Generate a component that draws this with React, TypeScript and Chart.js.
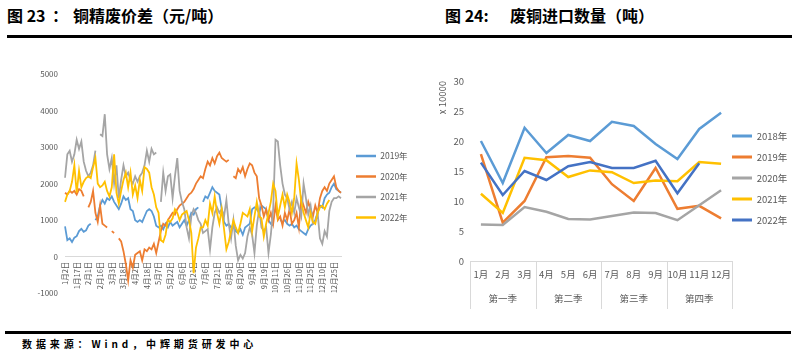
import React, { useEffect, useRef } from "react";
import { Chart, registerables } from "chart.js";

Chart.register(...registerables);

const FONT = '"Noto Sans CJK SC", "Noto Sans", sans-serif';
const TICK = "#595959";
const AXIS = "#D9D9D9";

// ---------- 图23 铜精废价差 ----------
const spreadTickLabels = [
  "1月2日", "1月17日", "2月1日", "2月16日", "3月3日", "3月18日", "4月2日", "4月18日",
  "5月7日", "5月22日", "6月6日", "6月21日", "7月6日", "7月21日", "8月5日", "8月20日",
  "9月4日", "9月19日", "10月11日", "10月26日", "11月10日", "11月25日", "12月10日", "12月25日",
];
const spreadNames = ["2019年", "2020年", "2021年", "2022年"];
const spreadColors = ["#5B9BD5", "#ED7D31", "#A5A5A5", "#FFC000"];

const spread2019 = [
  830, 450, 500, 400, 520, 560, 700, 760, 680, 720,
  850, 900, null, 1000, 1100, 1400, 1550, 1450, 1600, 1550,
  1650, 1500, 1400, 1300, 1450, 1650, 1550, 1600, 1300, 1250,
  1000, 950, 1000, 950, 1100, 1250, 1300, 1250, 1100, 850,
  800, 850, 750, 900, 800, 950, 850, 900, 950, 800,
  900, 1000, 850, 1000, 1200, 1150, 1300, 1350, null, 1500,
  1650, 1600, 1750, 1900, 1800, 1750, 1700, 1300, 950, 850,
  900, 800, 850, 700, 650, 750, 600, 800, 850, 900,
  1300, 1350, 1300, 1200, 1400, 1350, 1300, 1000, 900, 850,
  null, null, 1000, 950, 1000, 900, 850, 900, 800, 850,
  750, 700, 650, 600, 750, 850, 900, 1000, 1200, 1400,
  1350, 1600, 1700, 1750, 1900, 2000, 1850, 1800, 1750,
];
const spread2020 = [
  1750, 1700, 1800, 1750, 1800, 1700, 1850, 1800, 1650, null,
  1350, 1500, 1800, 1200, 950, 1400, 900, 850, 800, null,
  700, 650, null, 500, 420, 150, -200, -650, -100, -300,
  50, 100, 150, -100, 200, 150, 250, 200, 350, 100,
  400, 700, 900, 850, 1000, 1100, 1200, 1150, 1300, 1400,
  1450, 1500, 1600, 1700, 1750, 1850, 2000, 2100, 2200, 2150,
  2400, 2600, 2500, 2700, 2550, 2750, 2850, 2700, 2650, 2600,
  2650, null, 2200, 2150, 2400, 2300, 2450, 2200, 2400, 2550,
  2500, 2300, 2200, 1600, 1400, 1100, 1300, 1000, 1200, 900,
  1400, 1000, 1100, 850, 1200, 1000, 1300, 900, 1000, 1200,
  800, 1600, 1400, 1200, 1500, 1300, 1100, 1400, 1200, 1600,
  1800, 1900, 1800, 2000, 2100, 2200, 1900, 1800, 1750,
];
const spread2021 = [
  2160, 2800, 2900, 2600, 2800, 3200, 2950, 3150, 2600, 2350,
  2200, 2300, 2500, 2900, null, 3350, 3300, 3900, 2800, 2400,
  2700, 2000, 2500, 1600, 2100, 2500, 2200, 2300, 2100, 2000,
  2200, 2050, 2200, 2300, 2500, 2900, 2600, 2950, 2800, 2850,
  null, 1500, 2300, 1800, 2200, 2250, 1600, 2200, 2700, 1800,
  1500, 1300, 800, 500, 1100, 1300, 1200, 1000, 900, 650,
  700, 750, 200, 800, 1200, 1350, 1200, 1300, 1100, 1550,
  900, 500, 1000, 300, -100, 50, -50, 100, 550, 800,
  600, 100, 850, 1300, 800, 700, 800, 100, 600, 1300,
  3200, 3150, 2500, 2000, 1700, 1600, 1300, 1500, 1200, 1600,
  1350, 1100, 2000, 1600, 1150, 1400, 900, 950, 1200, 500,
  350, 700, 550, 1250, 1500, 1600, 1600, 1650, 1600,
];
const spread2022 = [
  1500, 1700, 1800, 2050, 2500, 1750, 2350, 1900, 2050, 2150,
  2200, 2150, 2450, 2700, 2000, 1900, 1950, 2050, 1800, 1650,
  1900, 2800, 1750, 1450, 1800, 2100, 2300, 1900, 2300, 1700,
  1950, 1600, 2100, 1800, 2450, 2400, 2300, 1900, 1700, 1350,
  1200, 450, 400, 600, 1000, 950, 1050, 1300, 1200, 1000,
  1150, 1200, 1250, 1000, 650, -450, 250, 500, 800, 800,
  1000, 850, 1450, 1200, 1650, 1200, 900, 1300, 750, 200,
  400, 700, 1000, 800, 650, 900, 1200, 1150, 1100, 1300,
  700, 1100, 1500, 1100, 1050, 550, 900, 1200, 1500, 2000,
  1800, 1100, 1400, 1700, 1350, 1700, 1500, 1200, 1600, 2550,
  2100, 1500, 1200, 1000, 800, 1200, 950, 900, 1200, 1350,
  1400, 1300, 1450, 1550, null, null, null, null, null,
];
const spreadTicksY = { min: -1000, max: 5000, step: 1000 };

// ---------- 图24 废铜进口数量 ----------
const months = ["1月", "2月", "3月", "4月", "5月", "6月", "7月", "8月", "9月", "10月", "11月", "12月"];
const quarters = ["第一季", "第二季", "第三季", "第四季"];
const importNames = ["2018年", "2019年", "2020年", "2021年", "2022年"];
const importColors = ["#5B9BD5", "#ED7D31", "#A5A5A5", "#FFC000", "#4472C4"];
const imp2018 = [20, 13, 22.2, 18, 21, 20, 23.2, 22.5, 19.5, 17, 22, 24.7];
const imp2019 = [17.8, 6.4, 10, 17.3, 17.5, 17.2, 12.8, 10, 15.5, 8.7, 9.2, 7.1];
const imp2020 = [6.1, 6, 9, 8.2, 7, 6.9, 7.5, 8.1, 8, 6.8, 9.3, 11.8];
const imp2021 = [11.2, 8, 17.2, 16.8, 14, 15.1, 14.8, 13, 13.4, 13.3, 16.5, 16.2];
const imp2022 = [16.4, 11, 15, 13.5, 15.8, 16.5, 15.5, 15.5, 16.7, 11.3, 16.3, null];
const importTicksY = { min: 0, max: 30, step: 5 };

const PW = 20; // legend line sample length

// place the legend: x = start of the line sample, y = centre of the first item (canvas px)
const legendPlace = {
  id: "legendPlace",
  afterLayout(chart: any, _args: any, opts: any) {
    const lg = chart.legend;
    if (!lg || opts == null || opts.x == null) return;
    const dx = opts.x - (lg.left + opts.pad);
    lg.left += dx;
    lg.right += dx;
    const dy = opts.y - opts.pad - opts.fs / 2 - lg.top;
    lg.top += dy;
    lg.bottom += dy;
  },
};

const quarterGroups = {
  id: "quarterGroups",
  afterDraw(chart: any, _args: any, opts: any) {
    if (!opts || !opts.groups) return;
    const x = chart.scales.x;
    const ctx = chart.ctx;
    const n = chart.data.labels.length;
    const per = n / opts.groups.length;
    const edge = (i: number) =>
      i <= 0 ? x.left : i >= n ? x.right : (x.getPixelForValue(i - 1) + x.getPixelForValue(i)) / 2;
    const top = chart.chartArea.bottom;
    ctx.save();
    ctx.strokeStyle = AXIS;
    ctx.lineWidth = 1;
    for (let g = 0; g <= opts.groups.length; g++) {
      const px = Math.round(edge(g * per)) + 0.5;
      ctx.beginPath();
      ctx.moveTo(px, top);
      ctx.lineTo(px, top + opts.lineLen);
      ctx.stroke();
    }
    ctx.fillStyle = TICK;
    ctx.font = `${opts.fontSize}px ${FONT}`;
    ctx.textAlign = "center";
    ctx.textBaseline = "middle";
    opts.groups.forEach((q: string, g: number) => {
      const cx = (edge(g * per) + edge((g + 1) * per)) / 2;
      ctx.fillText(q, cx, top + opts.labelY);
    });
    ctx.restore();
  },
};

// natural width Chart.js gives a vertical legend: padding + line + fs/2 + text + 10
function legendWidth(names: string[], fs: number, pad: number) {
  const c = document.createElement("canvas").getContext("2d")!;
  c.font = `${fs}px ${FONT}`;
  const tw = Math.max(...names.map((t) => c.measureText(t).width));
  return pad + PW + fs / 2 + tw + 10;
}

function legendLabels(fs: number, pad: number, lw: number) {
  return {
    usePointStyle: true,
    pointStyle: "line",
    pointStyleWidth: PW,
    padding: pad,
    color: TICK,
    font: { size: fs, family: FONT },
    sort: (a: any, b: any) => a.datasetIndex - b.datasetIndex,
    generateLabels: (chart: any) =>
      Chart.defaults.plugins.legend.labels
        .generateLabels(chart)
        .map((l: any) => ({ ...l, lineWidth: lw })),
  };
}

const plainTick = (v: any) => String(v);

function SpreadChart() {
  const ref = useRef<HTMLCanvasElement>(null);
  useEffect(() => {
    const W = 420;
    const plotRight = 341;
    const fs = 8.5;
    const pad = 12;
    const lw = legendWidth(spreadNames, fs, pad);
    const series = [spread2019, spread2020, spread2021, spread2022];
    const labels = spread2019.map((_, i) => (i % 5 === 0 ? spreadTickLabels[i / 5] ?? "" : ""));
    const chart = new Chart(ref.current!, {
      type: "line",
      data: {
        labels,
        datasets: series.map((d, i) => ({
          label: spreadNames[i],
          data: d,
          borderColor: spreadColors[i],
          backgroundColor: spreadColors[i],
          borderWidth: 1.8,
          pointRadius: 0,
          tension: 0,
          spanGaps: false,
          order: series.length - i,
        })),
      },
      options: {
        responsive: false,
        animation: false,
        layout: { padding: { top: 14, bottom: 10, left: 0, right: W - plotRight - lw } },
        plugins: {
          legend: {
            position: "right",
            align: "start",
            labels: legendLabels(fs, pad, 2.5) as any,
          },
          tooltip: { enabled: false },
          legendPlace: { x: 356, y: 96, pad, fs },
        } as any,
        scales: {
          x: {
            type: "category",
            position: { y: 0 } as any,
            offset: false,
            grid: { display: false, drawTicks: false },
            border: { display: true, color: AXIS, width: 1 },
            ticks: {
              autoSkip: false,
              minRotation: 90,
              maxRotation: 90,
              padding: 5,
              color: TICK,
              font: { size: 7.5, family: FONT },
            },
          },
          y: {
            min: spreadTicksY.min,
            max: spreadTicksY.max,
            afterFit: (s: any) => {
              s.width = 65;
            },
            grid: { display: false, drawTicks: false },
            border: { display: false },
            ticks: {
              stepSize: spreadTicksY.step,
              callback: plainTick,
              padding: 7,
              color: TICK,
              font: { size: 8, family: FONT },
            },
          },
        },
      },
      plugins: [legendPlace],
    });
    return () => chart.destroy();
  }, []);
  return <canvas ref={ref} width={420} height={245} />;
}

function ImportChart() {
  const ref = useRef<HTMLCanvasElement>(null);
  useEffect(() => {
    const W = 366;
    const plotRight = 302;
    const fs = 9.5;
    const pad = 11.5;
    const lw = legendWidth(importNames, fs, pad);
    const series = [imp2018, imp2019, imp2020, imp2021, imp2022];
    const chart = new Chart(ref.current!, {
      type: "line",
      data: {
        labels: months,
        datasets: series.map((d, i) => ({
          label: importNames[i],
          data: d,
          borderColor: importColors[i],
          backgroundColor: importColors[i],
          borderWidth: 2.5,
          pointRadius: 0,
          tension: 0,
          order: series.length - i,
        })),
      },
      options: {
        responsive: false,
        animation: false,
        layout: { padding: { top: 21, bottom: 0, left: 0, right: W - plotRight - lw } },
        plugins: {
          legend: {
            position: "right",
            align: "start",
            labels: legendLabels(fs, pad, 2.8) as any,
          },
          tooltip: { enabled: false },
          legendPlace: { x: 302, y: 76, pad, fs },
          quarterGroups: { groups: quarters, lineLen: 48, labelY: 37, fontSize: 9.5 },
        } as any,
        scales: {
          x: {
            type: "category",
            offset: true,
            afterFit: (s: any) => {
              s.height = 59;
            },
            grid: { display: false, drawTicks: false },
            border: { display: true, color: AXIS, width: 1 },
            ticks: {
              autoSkip: false,
              maxRotation: 0,
              padding: 8,
              color: TICK,
              font: { size: 9.5, family: FONT },
            },
          },
          y: {
            min: importTicksY.min,
            max: importTicksY.max,
            afterFit: (s: any) => {
              s.width = 40;
            },
            grid: { display: false, drawTicks: false },
            border: { display: false },
            title: {
              display: true,
              text: "x 10000",
              align: "end",
              color: TICK,
              font: { size: 9.5, family: FONT },
              padding: { top: 7, bottom: 0 },
            },
            ticks: {
              stepSize: importTicksY.step,
              callback: plainTick,
              padding: 6,
              color: TICK,
              font: { size: 9.5, family: FONT },
            },
          },
        },
      },
      plugins: [legendPlace, quarterGroups],
    });
    return () => chart.destroy();
  }, []);
  return <canvas ref={ref} width={366} height={260} />;
}

export default function App() {
  const title: React.CSSProperties = {
    position: "absolute",
    fontSize: 16,
    lineHeight: "16px",
    fontWeight: 700,
    color: "#000",
    whiteSpace: "pre",
    fontFamily: FONT,
  };
  return (
    <div
      style={{
        position: "absolute",
        left: 0,
        top: 0,
        width: 796,
        height: 358,
        background: "#fff",
        overflow: "hidden",
        fontFamily: FONT,
      }}
    >
      <div style={{ ...title, left: 7, top: 7 }}>图 23</div>
      <div style={{ ...title, left: 52, top: 7 }}>：</div>
      <div style={{ ...title, left: 73, top: 7 }}>铜精废价差（元/吨）</div>
      <div style={{ ...title, left: 445, top: 7 }}>图 24:</div>
      <div style={{ ...title, left: 510, top: 7 }}>废铜进口数量（吨）</div>
      <div style={{ position: "absolute", left: 7, top: 35, width: 785, height: 3, background: "#000" }} />
      <div style={{ position: "absolute", left: 0, top: 60, width: 420, height: 245 }}>
        <SpreadChart />
      </div>
      <div style={{ position: "absolute", left: 430, top: 60, width: 366, height: 260 }}>
        <ImportChart />
      </div>
      <div style={{ position: "absolute", left: 5, top: 331, width: 786, height: 3, background: "#000" }} />
      <div
        style={{
          position: "absolute",
          left: 22,
          top: 338,
          fontSize: 10,
          lineHeight: "12px",
          fontWeight: 700,
          letterSpacing: 3.9,
          whiteSpace: "pre",
          color: "#000",
          fontFamily: FONT,
        }}
      >
        数据来源：Wind，中辉期货研发中心
      </div>
    </div>
  );
}
